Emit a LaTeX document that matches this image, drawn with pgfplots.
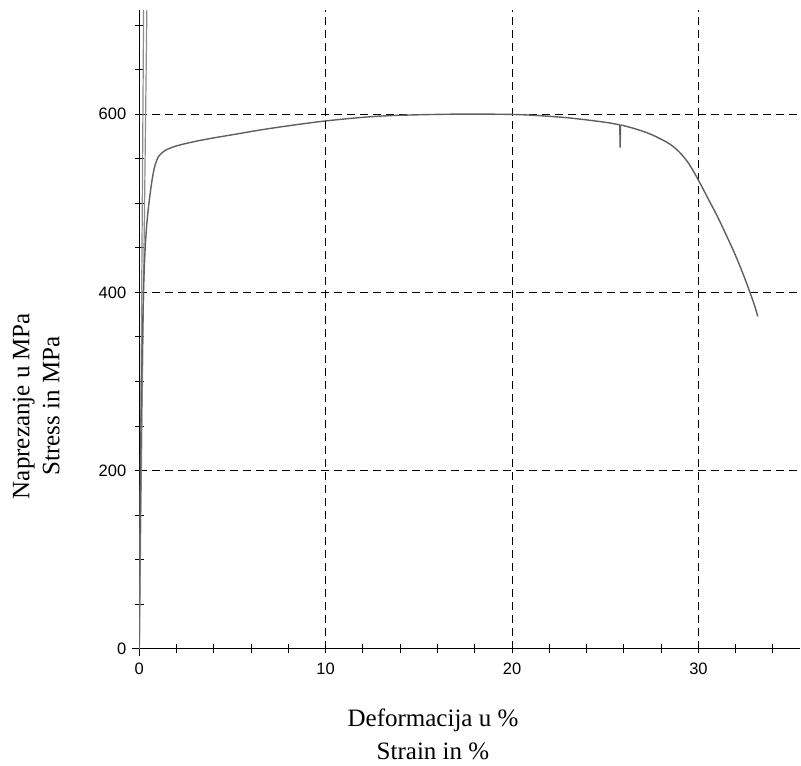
\documentclass[border=0pt]{standalone}
\usepackage{fontspec}
\setmainfont{Liberation Serif}
\newfontfamily\ticksf{Liberation Sans}
\usepackage{pgfplots}
\pgfplotsset{compat=1.18}
\definecolor{curve}{RGB}{95,95,95}
\definecolor{elast}{RGB}{140,140,140}

\begin{document}
\begin{tikzpicture}
\begin{axis}[
  scale only axis, width=660.7pt, height=638.7pt,
  xmin=0, xmax=35.45, ymin=0, ymax=717,
  axis x line=bottom, axis y line=left,
  axis line style={-, black, line width=1.2pt, shorten <=-7pt},
  xtick={0,10,20,30}, ytick={0,200,400,600},
  minor xtick={2,4,...,34}, minor ytick={50,100,...,700},
  tick align=center, major tick length=9pt, minor tick length=9pt,
  tick style={black, line width=1pt},
  grid=major,
  major grid style={black, line width=0.8pt, dash pattern=on 8pt off 5pt},
  ticklabel style={font=\ticksf\fontsize{16.5}{18}\selectfont},
  xticklabel style={yshift=-6pt},
  yticklabel style={xshift=-5pt},
  /pgf/number format/assume math mode=true,
  xlabel={Deformacija u \%\\Strain in \%},
  ylabel={Naprezanje u MPa\\Stress in MPa},
  xlabel style={font=\fontsize{25}{33}\selectfont, align=center, inner sep=0pt,
    anchor=north, at={(axis description cs:0.4445,-0.094)}},
  ylabel style={font=\fontsize{25}{30}\selectfont, align=center, inner sep=0pt,
    anchor=center, at={(axis description cs:-0.156,0.38)}},
]
% elastic lines
\addplot[elast, line width=1.2pt] coordinates {(0,0) (0.42,740)};
\addplot[elast, line width=1.2pt] coordinates {(0,0) (0.24,740)};
% stress-strain curve
\addplot[curve, line width=1.4pt, smooth, tension=0.5] coordinates {
 (0,0) (0.03,100) (0.07,200) (0.11,280) (0.17,350) (0.24,410) (0.33,455)
 (0.44,485) (0.56,507) (0.7,528) (0.85,543) (1.05,553) (1.4,559.5) (2,564.5)
 (3,569.5) (4,573.5) (5,577) (7,584) (10,592.5) (13,598) (16.5,600)
 (19.35,600) (21,599) (23,596) (25,591) (25.78,588)
};
\addplot[curve, line width=1.4pt] coordinates {(25.78,588) (25.8,562.5) (25.82,588)};
\addplot[curve, line width=1.4pt, smooth, tension=0.6] coordinates {
 (25.82,588) (26.3,585.5) (27,581) (27.5,577) (28,572) (28.5,566) (29,557)
 (29.5,544) (30,526) (30.5,506) (31,486) (31.5,464) (32,441) (32.5,415)
 (33,386) (33.18,373)
};
\coordinate (tl) at (axis description cs:-0.2108,1.0157);
\coordinate (br) at (axis description cs:1.0015,-0.1821);
\end{axis}
\path (tl) rectangle (br);
\end{tikzpicture}
\end{document}
